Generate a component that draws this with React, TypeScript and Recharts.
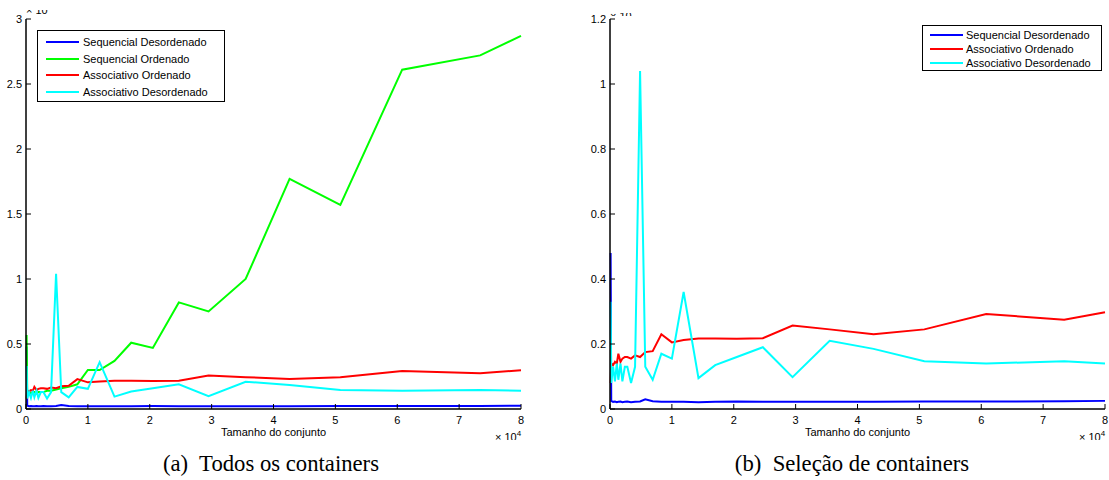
import React from "react";
import { LineChart, Line, XAxis, YAxis, Legend } from "recharts";

// Tamanho do conjunto (x 10^4)
const sizes = [0.01, 0.02, 0.05, 0.08, 0.11, 0.135, 0.17, 0.2, 0.24, 0.28, 0.34, 0.405, 0.486, 0.57, 0.69, 0.83, 1.0, 1.19, 1.43, 1.7, 2.05, 2.47, 2.95, 3.55, 4.26, 5.08, 6.08, 7.34, 8.0];

// tempos por serie
const seqDes = [0.48, 0.025, 0.022, 0.023, 0.021, 0.022, 0.023, 0.021, 0.022, 0.023, 0.021, 0.022, 0.023, 0.03, 0.024, 0.022, 0.022, 0.022, 0.021, 0.022, 0.023, 0.022, 0.022, 0.022, 0.022, 0.023, 0.023, 0.024, 0.025];
const seqOrd = [0.57, 0.12, 0.13, 0.12, 0.13, 0.13, 0.12, 0.13, 0.13, 0.13, 0.14, 0.14, 0.15, 0.16, 0.17, 0.19, 0.3, 0.3, 0.37, 0.51, 0.47, 0.82, 0.75, 1.0, 1.77, 1.57, 2.61, 2.72, 2.87];
const assOrd = [0.08, 0.14, 0.135, 0.145, 0.14, 0.17, 0.145, 0.155, 0.16, 0.16, 0.155, 0.165, 0.16, 0.175, 0.178, 0.23, 0.205, 0.212, 0.217, 0.217, 0.216, 0.218, 0.257, 0.245, 0.23, 0.245, 0.292, 0.275, 0.298];
const assDes = [0.33, 0.08, 0.13, 0.085, 0.14, 0.09, 0.14, 0.085, 0.13, 0.13, 0.08, 0.13, 1.04, 0.13, 0.09, 0.17, 0.155, 0.36, 0.095, 0.135, 0.16, 0.19, 0.098, 0.21, 0.185, 0.147, 0.14, 0.147, 0.14];

// ordem de plotagem / legenda
const seriesOrder = ["seqDes", "seqOrd", "assOrd", "assDes"];

const xTicks = [0, 1, 2, 3, 4, 5, 6, 7, 8];
const yTicksAll = [0, 0.5, 1, 1.5, 2, 2.5, 3];
const yTicksSel = [0, 0.2, 0.4, 0.6, 0.8, 1, 1.2];

const rows = sizes.map((x, i) => ({
  x,
  seqDes: seqDes[i],
  seqOrd: seqOrd[i],
  assOrd: assOrd[i],
  assDes: assDes[i],
}));

const SANS = '"Liberation Sans", Arial, sans-serif';
const SERIF = '"Liberation Serif", "Times New Roman", serif';
const AXIS = { stroke: "#000", strokeWidth: 1.5 };

// ticks pointing into the box, matlab style
const BottomTick = ({ x, y, payload }: any) => (
  <g>
    <line x1={x} y1={y} x2={x} y2={y - 5} stroke="#000" />
    <text x={x} y={y + 15} textAnchor="middle" fontSize={11} fontFamily={SANS} fill="#000">
      {payload.value}
    </text>
  </g>
);
const TopTick = ({ x, y }: any) => <line x1={x} y1={y} x2={x} y2={y + 5} stroke="#000" />;
const LeftTick = ({ x, y, payload }: any) => (
  <g>
    <line x1={x} y1={y} x2={x + 5} y2={y} stroke="#000" />
    <text x={x - 4} y={y + 4} textAnchor="end" fontSize={11} fontFamily={SANS} fill="#000">
      {payload.value}
    </text>
  </g>
);
const RightTick = ({ x, y }: any) => <line x1={x} y1={y} x2={x - 5} y2={y} stroke="#000" />;

const legendBox = (width: number, height: number, first: number, gap: number, lineLeft: number, textLeft: number) =>
  (props: any) => {
    const items = [...(props.payload || [])].sort(
      (a: any, b: any) => seriesOrder.indexOf(a.dataKey) - seriesOrder.indexOf(b.dataKey)
    );
    return (
      <div
        style={{
          position: "relative",
          width,
          height,
          boxSizing: "border-box",
          border: "1px solid #000",
          background: "#fff",
          fontFamily: SANS,
          fontSize: 11,
          color: "#000",
        }}
      >
        {items.map((p: any, i: number) => (
          <div key={p.value} style={{ position: "absolute", left: 0, top: first + i * gap - 7, height: 14, width: "100%" }}>
            <span style={{ position: "absolute", left: lineLeft, top: 6, width: 33, height: 2, background: p.color }} />
            <span style={{ position: "absolute", left: textLeft, top: 0, lineHeight: "14px", whiteSpace: "nowrap" }}>{p.value}</span>
          </div>
        ))}
      </div>
    );
  };

const Clipped = ({ left, top, height, shift, children }: any) => (
  <div style={{ position: "absolute", left, top, width: 40, height, overflow: "hidden" }}>
    <div style={{ position: "absolute", left: 0, top: shift, fontFamily: SANS, fontSize: 11, lineHeight: "13px", whiteSpace: "nowrap" }}>
      {children}
    </div>
  </div>
);

function Panel({ left, width, yMax, yTicks, showGreen, legend, legendPos }: any) {
  return (
    <div style={{ position: "absolute", left, top: 0, width, height: 440, overflow: "hidden" }}>
      <LineChart width={width} height={440} data={rows} margin={{ top: 19, right: width - (left === 0 ? 521 : 1105 - left), bottom: 0, left: 0 }}>
        <XAxis
          dataKey="x"
          type="number"
          domain={[0, 8]}
          ticks={xTicks}
          height={31}
          axisLine={AXIS}
          tickLine={false}
          tickSize={0}
          tickMargin={0}
          tick={BottomTick}
          label={{ value: "Tamanho do conjunto", position: "insideBottom", offset: 4, fontSize: 11, fontFamily: SANS, fill: "#000" }}
        />
        <XAxis
          xAxisId="top"
          orientation="top"
          dataKey="x"
          type="number"
          domain={[0, 8]}
          ticks={xTicks}
          height={0}
          axisLine={AXIS}
          tickLine={false}
          tickSize={0}
          tickMargin={0}
          tick={TopTick}
        />
        <YAxis
          type="number"
          domain={[0, yMax]}
          ticks={yTicks}
          width={left === 0 ? 26 : 30}
          axisLine={AXIS}
          tickLine={false}
          tickSize={0}
          tickMargin={0}
          tick={LeftTick}
        />
        <YAxis
          yAxisId="right"
          orientation="right"
          type="number"
          domain={[0, yMax]}
          ticks={yTicks}
          width={0}
          axisLine={AXIS}
          tickLine={false}
          tickSize={0}
          tickMargin={0}
          tick={RightTick}
        />
        <Legend
          layout="vertical"
          align="center"
          verticalAlign="middle"
          content={legend}
          wrapperStyle={{ left: legendPos[0], top: legendPos[1], right: "auto", bottom: "auto", width: "auto", height: "auto" }}
        />
        <Line type="linear" dataKey="seqDes" name="Sequencial Desordenado" stroke="#0000ff" strokeWidth={2} dot={false} isAnimationActive={false} />
        {showGreen && (
          <Line type="linear" dataKey="seqOrd" name="Sequencial Ordenado" stroke="#00ff00" strokeWidth={2} dot={false} isAnimationActive={false} />
        )}
        <Line type="linear" dataKey="assOrd" name="Associativo Ordenado" stroke="#ff0000" strokeWidth={2} dot={false} isAnimationActive={false} />
        <Line type="linear" dataKey="assDes" name="Associativo Desordenado" stroke="#00ffff" strokeWidth={2} dot={false} isAnimationActive={false} />
      </LineChart>
    </div>
  );
}

const captionStyle: React.CSSProperties = {
  position: "absolute",
  top: 451,
  width: 400,
  textAlign: "center",
  fontFamily: SERIF,
  fontSize: 22.7,
  lineHeight: "26px",
  whiteSpace: "pre",
};

export default function App() {
  return (
    <div style={{ position: "absolute", left: 0, top: 0, width: 1109, height: 480, background: "#fff", overflow: "hidden" }}>
      <Panel
        left={0}
        width={545}
        yMax={3}
        yTicks={yTicksAll}
        showGreen
        legend={legendBox(188, 72, 11, 16.6, 8, 45)}
        legendPos={[37, 30]}
      />
      <Panel
        left={580}
        width={529}
        yMax={1.2}
        yTicks={yTicksSel}
        showGreen={false}
        legend={legendBox(180, 46, 9.3, 13.7, 7, 43)}
        legendPos={[342, 25]}
      />

      {/* multiplicadores cortados pelo recorte da figura */}
      <Clipped left={26} top={9.5} height={5} shift={-6}>× 10</Clipped>
      <Clipped left={610} top={12.5} height={3} shift={-3}>× 10</Clipped>
      <Clipped left={495} top={428} height={12} shift={3}>
        × 10<span style={{ fontSize: 8, position: "relative", top: -5 }}>4</span>
      </Clipped>
      <Clipped left={1079} top={428} height={12} shift={3}>
        × 10<span style={{ fontSize: 8, position: "relative", top: -5 }}>4</span>
      </Clipped>

      <div style={{ ...captionStyle, left: 271 - 200 }}>{"(a)  Todos os containers"}</div>
      <div style={{ ...captionStyle, left: 852 - 200 }}>{"(b)  Seleção de containers"}</div>
    </div>
  );
}
